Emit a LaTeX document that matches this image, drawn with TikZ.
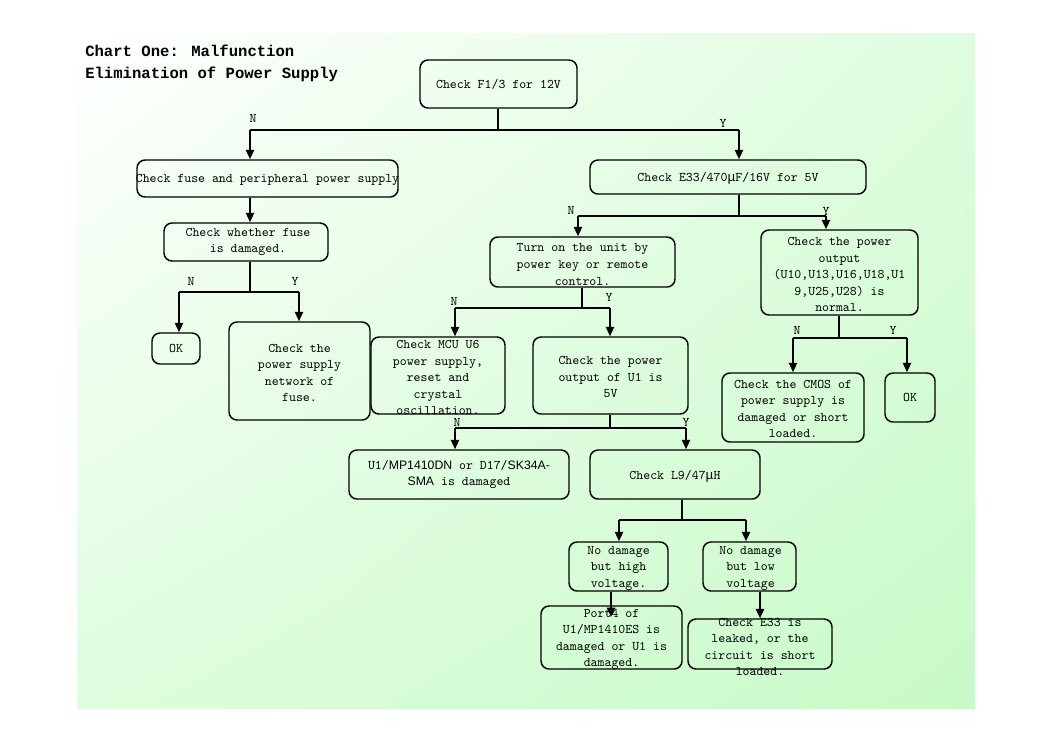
\documentclass[tikz,border=0pt]{standalone}
\usepackage{fontspec}
\setmonofont{Latin Modern Mono}
\newfontfamily\titlef{Liberation Mono}
\newfontfamily\arialf{Liberation Sans}
\newfontfamily\muf{Liberation Mono}
\newcommand{\mym}{{\muf μ}}
\usetikzlibrary{arrows.meta,calc,shadings}
\definecolor{bgA}{RGB}{255,255,255}
\definecolor{bgB}{RGB}{222,253,222}
\definecolor{bgC}{RGB}{200,250,200}
\begin{document}
\begin{tikzpicture}[x=0.75pt,y=-0.75pt,
  box/.style={draw, line width=1.1pt, rounded corners=6pt, inner sep=0pt},
  wh/.style 2 args={minimum width=#1*0.75pt, minimum height=#2*0.75pt},
  txt/.style={align=center, font=\ttfamily\fontsize{9.9}{12.4}\selectfont, inner sep=0pt},
  ln/.style={line width=1.5pt},
  thin/.style={line width=1.1pt},
  arr/.style={line width=1.5pt, -{Triangle[length=7pt,width=6pt]}},
  yn/.style={font=\ttfamily\fontsize{9.9}{10}\selectfont, inner sep=0pt}]
\useasboundingbox (0,0) rectangle (1053,744);
\shade[upper left=bgA, upper right=bgB, lower left=bgB, lower right=bgC] (77,33) rectangle (975,708);

% title
\node[anchor=west, align=left, inner sep=0pt, font=\titlef\bfseries\fontsize{11.7}{16.5}\selectfont] (title) at (85,63) {Chart One: Malfunction\\Elimination of Power Supply};

% boxes
\node[box, wh={157}{48}] (f13) at (498.5,84) {};
\node[box, wh={261}{37}] (fuse) at (267.5,178.5) {};
\node[box, wh={164}{38}] (chk) at (246,242) {};
\node[box, wh={48}{31}] (okL) at (176,348.5) {};
\node[box, wh={141}{98}] (net) at (299.5,371) {};
\node[box, wh={276}{34}] (e33) at (728,177) {};
\node[box, wh={185}{50}] (turn) at (582.5,262) {};
\node[box, wh={157}{85}] (pout) at (839.5,272.5) {};
\node[box, wh={134}{77}] (mcu) at (438,375.5) {};
\node[box, wh={155}{77}] (u1) at (610.5,375.5) {};
\node[box, wh={142}{69}] (cmos) at (793,407.5) {};
\node[box, wh={50}{49}] (okR) at (910,397.5) {};
\node[box, wh={220}{49}] (dn) at (459,474.5) {};
\node[box, wh={170}{49}] (l9) at (675,474.5) {};
\node[box, wh={99}{49}] (hv) at (618.5,566.5) {};
\node[box, wh={93}{49}] (lv) at (749.5,566.5) {};
\node[box, wh={141}{63}] (port) at (611.5,637.5) {};
\node[box, wh={144}{50}] (e33c) at (760,644) {};

% texts
\node[txt] (f13t) at (f13) {Check F1/3 for 12V};
\node[txt] (fuset) at ($(fuse)+(0,1.5)$) {Check fuse and peripheral power supply};
\node[txt] (chkt) at ($(chk)+(2,0)$) {Check whether fuse\\is damaged.};
\node[txt] (okLt) at (okL) {OK};
\node[txt] (nett) at ($(net)+(0,2)$) {Check the\\power supply\\network of\\fuse.};
\node[txt] (e33t) at ($(e33)+(0,1.5)$) {Check E33/470\mym F/16V for 5V};
\node[txt] (turnt) at ($(turn)+(0,2.5)$) {Turn on the unit by\\power key or remote\\control.};
\node[txt] (poutt) at ($(pout)+(0,2)$) {Check the power\\output\\(U10,U13,U16,U18,U1\\9,U25,U28) is\\normal.};
\node[txt] (mcut) at ($(mcu)+(0,2)$) {Check MCU U6\\power supply,\\reset and\\crystal\\oscillation.};
\node[txt] (u1t) at ($(u1)+(0,1.5)$) {Check the power\\output of U1 is\\5V};
\node[txt] (cmost) at ($(cmos)+(0,1.5)$) {Check the CMOS of\\power supply is\\damaged or short\\loaded.};
\node[txt] (okRt) at (okR) {OK};
\node[txt] (dnt) at (dn) {U1/{\arialf\fontsize{9.2}{12.4}\selectfont MP1410DN} or D17/{\arialf\fontsize{9.2}{12.4}\selectfont SK34A-}\\{\arialf\fontsize{9.2}{12.4}\selectfont SMA} is damaged};
\node[txt] (l9t) at ($(l9)+(0,1.5)$) {Check L9/47\mym H};
\node[txt] (hvt) at ($(hv)+(0,1.5)$) {No damage\\but high\\voltage.};
\node[txt] (lvt) at ($(lv)+(1,1.5)$) {No damage\\but low\\voltage};
\node[txt] (portt) at ($(port)+(0,2)$) {Port4 of\\U1/MP1410ES is\\damaged or U1 is\\damaged.};
\node[txt] (e33ct) at ($(e33c)+(0,3)$) {Check E33 is\\leaked, or the\\circuit is short\\loaded.};

% junction coordinates
\coordinate (j1) at (498,130);
\coordinate (j1L) at (250,130);
\coordinate (j1R) at (739,130);
\coordinate (fx) at (250,200);
\coordinate (j2) at (250,292);
\coordinate (j2L) at (179,292);
\coordinate (j2R) at (299,292);
\coordinate (j3) at (739,216);
\coordinate (j3L) at (578,216);
\coordinate (j3R) at (826,216);
\coordinate (j4) at (582,308);
\coordinate (j4L) at (455,308);
\coordinate (j4R) at (610,308);
\coordinate (j5) at (839,338);
\coordinate (j5L) at (793,338);
\coordinate (j5R) at (907,338);
\coordinate (j6) at (610,428);
\coordinate (j6L) at (455,428);
\coordinate (j6R) at (686,428);
\coordinate (j7) at (682,520);
\coordinate (j7L) at (619,520);
\coordinate (j7R) at (746,520);
\coordinate (hx) at (611,617);
\coordinate (lx) at (760,600);

% connectors
\draw[ln] (f13.south -| j1) -- (j1);
\draw[ln] (j1L) -- (j1R);
\draw[arr] (j1L) -- (j1L |- fuse.north);
\draw[arr] (j1R) -- (j1R |- e33.north);

\draw[arr] (fx |- fuse.south) -- (fx |- chk.north);
\draw[ln] (j2 |- chk.south) -- (j2);
\draw[ln] (j2L) -- (j2R);
\draw[arr] (j2L) -- (j2L |- okL.north);
\draw[arr] (j2R) -- (j2R |- net.north);

\draw[ln] (j3 |- e33.south) -- (j3);
\draw[ln] (j3L) -- (j3R);
\draw[arr] (j3L) -- (j3L |- turn.north);
\draw[arr] (j3R) -- (j3R |- pout.north);

\draw[ln] (j4 |- turn.south) -- (j4);
\draw[ln] (j4L) -- (j4R);
\draw[arr] (j4L) -- (j4L |- mcu.north);
\draw[arr] (j4R) -- (j4R |- u1.north);

\draw[ln] (j5 |- pout.south) -- (j5);
\draw[ln] (j5L) -- (j5R);
\draw[arr] (j5L) -- (j5L |- cmos.north);
\draw[arr] (j5R) -- (j5R |- okR.north);

\draw[ln] (j6 |- u1.south) -- (j6);
\draw[thin] (j6L) -- (j6R);
\draw[arr] (j6L) -- (j6L |- dn.north);
\draw[arr] (j6R) -- (j6R |- l9.north);

\draw[ln] (j7 |- l9.south) -- (j7);
\draw[thin] (j7L) -- (j7R);
\draw[arr] (j7L) -- (j7L |- hv.north);
\draw[arr] (j7R) -- (j7R |- lv.north);

\draw[arr] (hx |- hv.south) -- (hx);
\draw[arr] (lx |- lv.south) -- (lx |- e33c.north);

% labels
\node[yn] (n1) at (253,118) {N};
\node[yn] (y1) at (723,123) {Y};
\node[yn] (n2) at (191,281) {N};
\node[yn] (y2) at (295,281) {Y};
\node[yn] (n3) at (571,210) {N};
\node[yn] (y3) at (826,211) {Y};
\node[yn] (n4) at (454,301) {N};
\node[yn] (y4) at (609,297) {Y};
\node[yn] (n5) at (797,330) {N};
\node[yn] (y5) at (893,330) {Y};
\node[yn] (n6) at (457,422) {N};
\node[yn] (y6) at (686,422) {Y};
\end{tikzpicture}
\end{document}
